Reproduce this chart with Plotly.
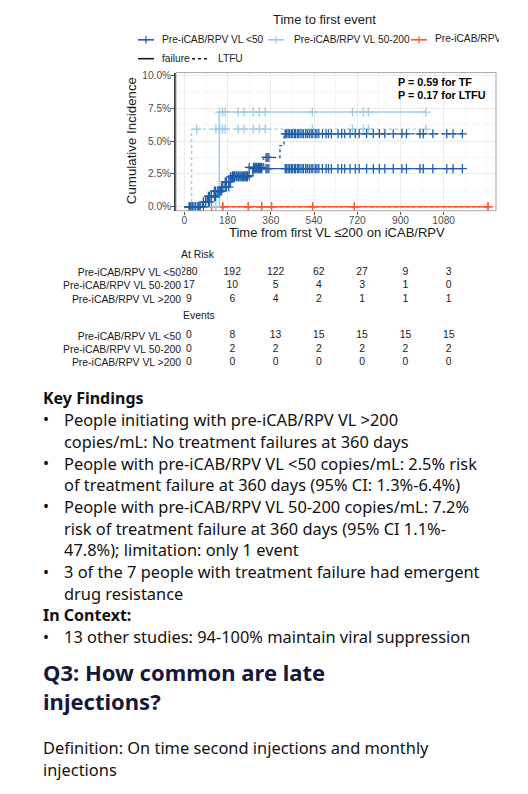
import numpy as np
import plotly.graph_objects as go

# page body keeps an 8px margin, so the figure is drawn 8px smaller and
# every layout position below is given in page pixels
OFF = 8
W, H = 528 - OFF, 794 - OFF


def px(x):
    return (x - OFF) / W


def py(y):
    return 1 - (y - OFF) / H


groups = ["Pre-iCAB/RPV VL <50", "Pre-iCAB/RPV VL 50-200", "Pre-iCAB/RPV VL >200"]
colors = ["#1f5ea8", "#9dcbe6", "#ff5a26"]

# cumulative incidence step curves (days, proportion)
lt50_tf_days = [0, 75, 95, 125, 160, 195, 285]
lt50_tf_ci = [0, 0.0037, 0.008, 0.012, 0.019, 0.0235, 0.029]
lt50_ltfu_days = [0, 80, 105, 135, 150, 190, 265, 330, 398, 415]
lt50_ltfu_ci = [0, 0.0037, 0.0075, 0.0113, 0.015, 0.0227, 0.030, 0.0375, 0.0465, 0.0555]
lt50_end = 1158
lt50_censor = [20, 27, 35, 45, 58, 65, 79, 88, 100, 104, 112, 125, 130, 140, 148, 155, 170,
               175, 185, 192, 200, 205, 210, 218, 225, 232, 240, 245, 252, 258, 262, 270,
               288, 292, 298, 302, 308, 312, 318, 322, 340, 345, 352, 420, 425, 432, 438,
               445, 450, 458, 462, 470, 475, 482, 490, 496, 505, 512, 520, 528, 535, 545,
               552, 560, 575, 590, 600, 612, 640, 655, 668, 690, 712, 728, 759, 787, 812,
               835, 870, 906, 925, 981, 995, 1035, 1093, 1119, 1158]

mid_tf_days = [0, 145]
mid_tf_ci = [0, 0.072]
mid_ltfu_days = [0, 30]
mid_ltfu_ci = [0, 0.059]
mid_end = 1006
mid_censor = [51, 131, 147, 159, 170, 224, 248, 287, 312, 337, 533, 700, 745, 766, 1006]

gt200_tf_days = [0]
gt200_tf_ci = [0]
gt200_ltfu_days = [0]
gt200_ltfu_ci = [0]
gt200_end = 1265
gt200_censor = [55, 113, 160, 266, 322, 363, 534, 708, 1265]

# risk table
table_days = [0, 180, 360, 540, 720, 900, 1080]
at_risk = [[280, 192, 122, 62, 27, 9, 3],
           [17, 10, 5, 4, 3, 1, 0],
           [9, 6, 4, 2, 1, 1, 1]]
events = [[0, 8, 13, 15, 15, 15, 15],
          [0, 2, 2, 2, 2, 2, 2],
          [0, 0, 0, 0, 0, 0, 0]]

curves = [
    (lt50_tf_days, lt50_tf_ci, lt50_ltfu_days, lt50_ltfu_ci, lt50_end, lt50_censor),
    (mid_tf_days, mid_tf_ci, mid_ltfu_days, mid_ltfu_ci, mid_end, mid_censor),
    (gt200_tf_days, gt200_tf_ci, gt200_ltfu_days, gt200_ltfu_ci, gt200_end, gt200_censor),
]

ARIAL = "Liberation Sans, Arial, sans-serif"
BODY = "Noto Sans, sans-serif"

fig = go.Figure()


def step_at(days, ci, t):
    idx = np.searchsorted(days, t, side="right") - 1
    return np.asarray(ci)[idx]


# draw orange first, dark blue last
for gi in [2, 1, 0]:
    tf_d, tf_c, lf_d, lf_c, end, cens = curves[gi]
    c = colors[gi]
    for d, ci, dash in [(lf_d, lf_c, "dot"), (tf_d, tf_c, "solid")]:
        fig.add_trace(go.Scatter(
            x=list(d) + [end], y=list(ci) + [ci[-1]], mode="lines",
            line=dict(color=c, width=1.4, dash=dash, shape="hv"),
            showlegend=False, hoverinfo="skip"))
        cy = step_at(d, ci, np.array(cens))
        fig.add_trace(go.Scatter(
            x=cens, y=cy, mode="markers",
            marker=dict(symbol="cross-thin", size=6.5, line=dict(width=1.3, color=c)),
            showlegend=False, hoverinfo="skip"))

# risk / events tables
for tab, xa, ya in [(at_risk, "x2", "y2"), (events, "x3", "y3")]:
    for gi, g in enumerate(groups):
        fig.add_trace(go.Scatter(
            x=table_days, y=[g] * len(table_days), text=[str(v) for v in tab[gi]],
            mode="text", textfont=dict(family=ARIAL, size=10.4, color="#1a1a1a"),
            xaxis=xa, yaxis=ya, showlegend=False, hoverinfo="skip"))

# third legend label: the chart picture is cropped at its right edge
fig.add_trace(go.Scatter(
    x=[0], y=[0], text=[groups[2]], mode="text", textposition="middle right",
    textfont=dict(family=ARIAL, size=10.2, color="#1a1a1a"), cliponaxis=True,
    xaxis="x4", yaxis="y4", showlegend=False, hoverinfo="skip"))

tick_font = dict(family=ARIAL, size=10.2, color="#4d4d4d")
table_x = dict(range=[-29, 1314], showgrid=False, zeroline=False, showticklabels=False,
               showline=False, ticks="")
table_y = dict(type="category", categoryorder="array", categoryarray=groups,
               range=[2.5, -0.5], showgrid=False, zeroline=False, showline=False,
               ticks="", ticklabelstandoff=0,
               tickfont=dict(family=ARIAL, size=10.4, color="#1a1a1a"))
hidden = dict(visible=False, showgrid=False, zeroline=False)

fig.update_layout(
    width=W, height=H, margin=dict(l=0, r=0, t=0, b=0),
    paper_bgcolor="white", plot_bgcolor="white", showlegend=False,
    xaxis=dict(domain=[px(176), px(496)], range=[-35, 1298],
               tickvals=[0, 180, 360, 540, 720, 900, 1080], tickfont=tick_font,
               ticks="outside", ticklen=3, tickcolor="#555555", ticklabelstandoff=-3,
               showgrid=True, gridcolor="#ebebeb", gridwidth=1, zeroline=False,
               minor=dict(dtick=90, tick0=0, showgrid=True, gridcolor="#f5f5f5", gridwidth=0.6),
               showline=False),
    yaxis=dict(domain=[py(209), py(70)], range=[-0.003, 0.102],
               tickvals=[0, 0.025, 0.05, 0.075, 0.1], tickformat=".1%", tickfont=tick_font,
               ticks="outside", ticklen=3, tickcolor="#555555", ticklabelstandoff=-2,
               showgrid=True, gridcolor="#ebebeb", gridwidth=1, zeroline=False,
               minor=dict(dtick=0.0125, tick0=0, showgrid=True, gridcolor="#f5f5f5", gridwidth=0.6),
               showline=True, linecolor="#3a3a3a", linewidth=1.6),
    xaxis2=dict(domain=[px(182), px(505)], anchor="y2", **table_x),
    yaxis2=dict(domain=[py(304.6), py(264.6)], anchor="x2", **table_y),
    xaxis3=dict(domain=[px(182), px(505)], anchor="y3", **table_x),
    yaxis3=dict(domain=[py(368.2), py(328.3)], anchor="x3", **table_y),
    xaxis4=dict(domain=[px(435), px(499)], range=[0, 1], anchor="y4", **hidden),
    yaxis4=dict(domain=[py(45), py(29)], range=[-1, 1], anchor="x4", **hidden),
)

# panel border
fig.add_shape(type="rect", xref="x domain", yref="y domain", x0=0, x1=1, y0=0, y1=1,
              line=dict(color="#a6a6a6", width=1), fillcolor="rgba(0,0,0,0)", layer="above")

# legend keys
for x0, c in [(138, colors[0]), (268, colors[1]), (411, colors[2])]:
    fig.add_shape(type="line", xref="paper", yref="paper", x0=px(x0), x1=px(x0 + 16),
                  y0=py(37), y1=py(37), line=dict(color=c, width=1.6))
    fig.add_shape(type="line", xref="paper", yref="paper", x0=px(x0 + 8), x1=px(x0 + 8),
                  y0=py(33.5), y1=py(40.5), line=dict(color=c, width=1.3))
fig.add_shape(type="line", xref="paper", yref="paper", x0=px(138), x1=px(154),
              y0=py(56), y1=py(56), line=dict(color="#1a1a1a", width=1.6))
fig.add_shape(type="line", xref="paper", yref="paper", x0=px(192), x1=px(208),
              y0=py(56), y1=py(56), line=dict(color="#1a1a1a", width=1.6, dash="dot"))

ann = []


def text(x, y, s, size, color="#1a1a1a", family=ARIAL, anchor="left", angle=0):
    ann.append(dict(x=px(x), y=py(y), xref="paper", yref="paper", text=s, showarrow=False,
                    xanchor=anchor, yanchor="middle", textangle=angle,
                    font=dict(family=family, size=size, color=color)))


text(324, 17, "Time to first event", 13, anchor="center")
text(159.5, 37, groups[0], 10.2)
text(291.5, 37, groups[1], 10.2)
text(159.5, 56, "failure", 10.2)
text(215.5, 56, "LTFU", 10.2)
text(131, 139, "Cumulative Incidence", 13.3, anchor="center", angle=-90)
text(337, 231, "Time from first VL ≤200 on iCAB/RPV", 13, anchor="center")
text(396, 79, "<b>P = 0.59 for TF</b>", 10.8, color="#000000")
text(396, 93, "<b>P = 0.17 for LTFU</b>", 10.8, color="#000000")
text(198, 253, "At Risk", 10.4, anchor="center")
text(199, 314, "Events", 10.4, anchor="center")

# text block
dark = "#111111"
text(41, 397, "<b>Key Findings</b>", 16, dark, BODY)
lines = [
    (419, True, "People initiating with pre-iCAB/RPV VL >200"),
    (441, False, "copies/mL: No treatment failures at 360 days"),
    (463, True, "People with pre-iCAB/RPV VL &lt;50 copies/mL: 2.5% risk"),
    (484.5, False, "of treatment failure at 360 days (95% CI: 1.3%-6.4%)"),
    (506.5, True, "People with pre-iCAB/RPV VL 50-200 copies/mL: 7.2%"),
    (528.5, False, "risk of treatment failure at 360 days (95% CI 1.1%-"),
    (550, False, "47.8%); limitation: only 1 event"),
    (572.5, True, "3 of the 7 people with treatment failure had emergent"),
    (594, False, "drug resistance"),
]
for y, bullet, s in lines:
    if bullet:
        text(41, y, "•", 16, dark, BODY)
    text(62, y, s, 16.4, dark, BODY)
text(41, 616, "<b>In Context:</b>", 16, dark, BODY)
text(41, 638, "•", 16, dark, BODY)
text(62, 638, "13 other studies: 94-100% maintain viral suppression", 16.4, dark, BODY)
text(41, 673, "<b>Q3: How common are late</b>", 22, "#17173d", BODY)
text(41, 702, "<b>injections?</b>", 22, "#17173d", BODY)
text(41, 749, "Definition: On time second injections and monthly", 16.4, dark, BODY)
text(41, 771, "injections", 16.4, dark, BODY)

fig.update_layout(annotations=ann)
fig.write_html("out.html")
